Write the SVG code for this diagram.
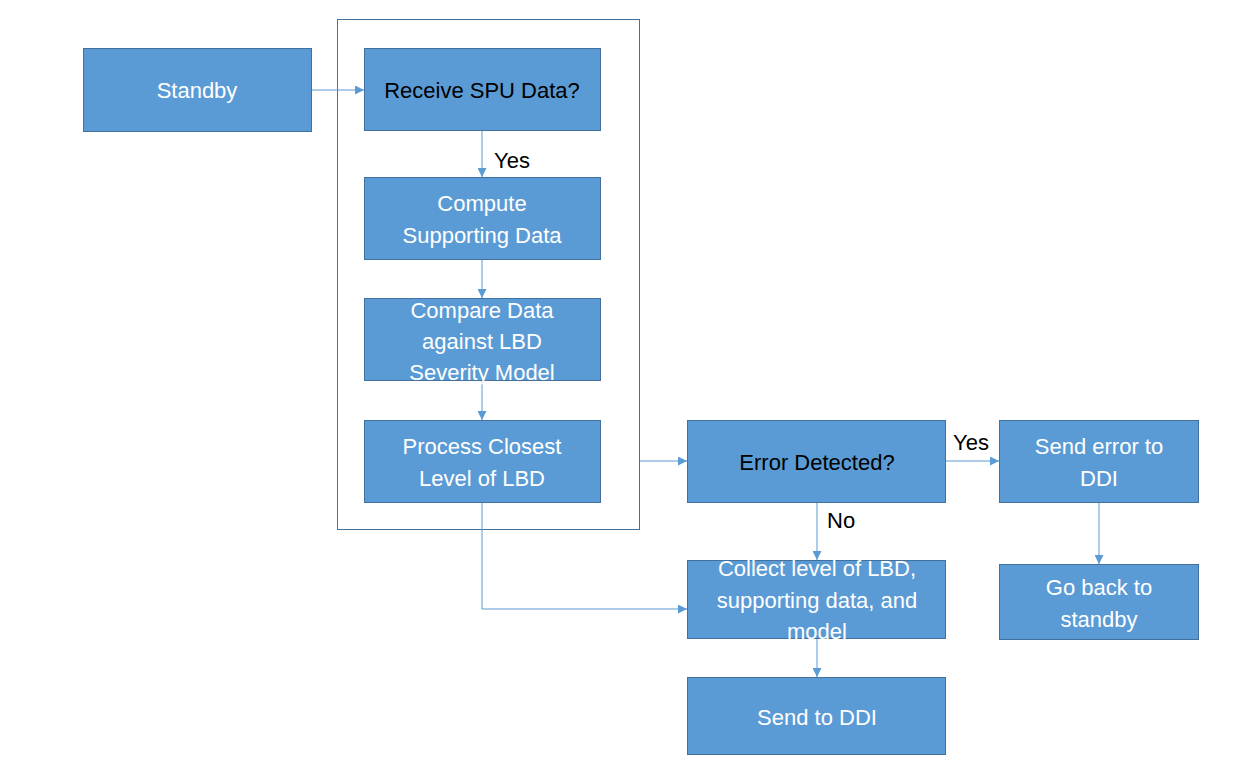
<svg xmlns="http://www.w3.org/2000/svg" width="1249" height="763" viewBox="0 0 1249 763">
<style>
.n{fill:#5B9BD5;stroke:#41719C;stroke-width:1}
.t{font-family:"Liberation Sans",Arial,sans-serif;font-size:22px;fill:#fff;text-anchor:middle}
.k{fill:#000}
.l{font-family:"Liberation Sans",Arial,sans-serif;font-size:22px;fill:#000}
.c{fill:none;stroke:#5B9BD5;stroke-width:1}
</style>
<defs>
<marker id="a" viewBox="0 0 10 10" refX="10" refY="5" markerWidth="9" markerHeight="9" markerUnits="userSpaceOnUse" orient="auto">
<path d="M0,0L10,5L0,10z" fill="#5B9BD5"/>
</marker>
</defs>
<rect x="0" y="0" width="1249" height="763" fill="#fff"/>
<g id="container"><rect x="337.5" y="19.5" width="302" height="510" fill="none" stroke="#41719C"/></g>
<g id="connectors">
<path class="c" d="M311,90H364" marker-end="url(#a)"/>
<path class="c" d="M482,130V177" marker-end="url(#a)"/>
<path class="c" d="M482,259V298" marker-end="url(#a)"/>
<path class="c" d="M482,380V420" marker-end="url(#a)"/>
<path class="c" d="M640,461H687" marker-end="url(#a)"/>
<path class="c" d="M945,461H999" marker-end="url(#a)"/>
<path class="c" d="M817,502V560" marker-end="url(#a)"/>
<path class="c" d="M482,502V609H687" marker-end="url(#a)"/>
<path class="c" d="M1099,502V564" marker-end="url(#a)"/>
<path class="c" d="M817,638V677" marker-end="url(#a)"/>
<text class="l" x="494" y="168">Yes</text>
<text class="l" x="953" y="450">Yes</text>
<text class="l" x="827" y="528">No</text>
</g>
<g id="standby"><rect class="n" x="83.5" y="48.5" width="228" height="83"/><text class="t" x="197" y="98">Standby</text></g>
<g id="receive"><rect class="n" x="364.5" y="48.5" width="236" height="82"/><text class="t k" x="482" y="98">Receive SPU Data?</text></g>
<g id="compute"><rect class="n" x="364.5" y="177.5" width="236" height="82"/><text class="t" x="482" y="211">Compute</text><text class="t" x="482" y="243">Supporting Data</text></g>
<g id="compare"><rect class="n" x="364.5" y="298.5" width="236" height="82"/><text class="t" x="482" y="318">Compare Data</text><text class="t" x="482" y="349">against LBD</text><text class="t" x="482" y="380">Severity Model</text></g>
<g id="process"><rect class="n" x="364.5" y="420.5" width="236" height="82"/><text class="t" x="482" y="454">Process Closest</text><text class="t" x="482" y="486">Level of LBD</text></g>
<g id="error"><rect class="n" x="687.5" y="420.5" width="258" height="82"/><text class="t k" x="817" y="470">Error Detected?</text></g>
<g id="senderror"><rect class="n" x="999.5" y="420.5" width="199" height="82"/><text class="t" x="1099" y="454">Send error to</text><text class="t" x="1099" y="486">DDI</text></g>
<g id="goback"><rect class="n" x="999.5" y="564.5" width="199" height="75"/><text class="t" x="1099" y="595">Go back to</text><text class="t" x="1099" y="627">standby</text></g>
<g id="collect"><rect class="n" x="687.5" y="560.5" width="258" height="78"/><text class="t" x="817" y="576">Collect level of LBD,</text><text class="t" x="817" y="608">supporting data, and</text><text class="t" x="817" y="639">model</text></g>
<g id="sendddi"><rect class="n" x="687.5" y="677.5" width="258" height="77"/><text class="t" x="817" y="725">Send to DDI</text></g>
</svg>
